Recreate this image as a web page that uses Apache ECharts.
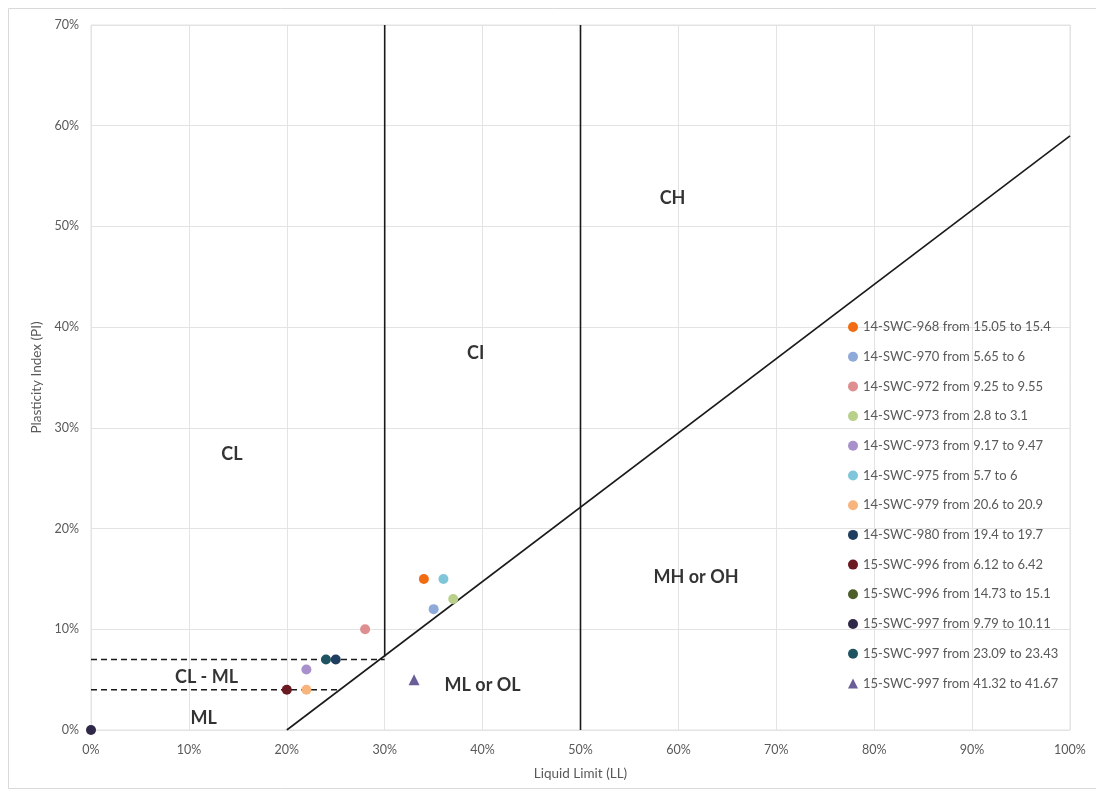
<!DOCTYPE html>
<html><head><meta charset="utf-8">
<script src="https://cdn.jsdelivr.net/npm/echarts@6/dist/echarts.min.js"></script>
<style>html,body{margin:0;padding:0;background:#fff}#c{width:1096px;height:798px}</style>
</head><body><div id="c"></div>
<script>
// Sample series (LL %, PI %)
const seriesNames = [
  '14-SWC-968 from 15.05 to 15.4',
  '14-SWC-970 from 5.65 to 6',
  '14-SWC-972 from 9.25 to 9.55',
  '14-SWC-973 from 2.8 to 3.1',
  '14-SWC-973 from 9.17 to 9.47',
  '14-SWC-975 from 5.7 to 6',
  '14-SWC-979 from 20.6 to 20.9',
  '14-SWC-980 from 19.4 to 19.7',
  '15-SWC-996 from 6.12 to 6.42',
  '15-SWC-996 from 14.73 to 15.1',
  '15-SWC-997 from 9.79 to 10.11',
  '15-SWC-997 from 23.09 to 23.43',
  '15-SWC-997 from 41.32 to 41.67'
];
const seriesPoints = [
  [[34, 15]],
  [[35, 12]],
  [[28, 10]],
  [[37, 13]],
  [[22, 6]],
  [[36, 15]],
  [[22, 4]],
  [[25, 7]],
  [[20, 4]],
  [],
  [[0, 0]],
  [[24, 7]],
  [[33, 5]]
];
const seriesColors = ['#f26d12','#8eaad8','#de8e8e','#b8d089','#a890cb','#80c6da','#f7b47c','#1f3d5f','#6a1b22','#4e5e2a','#2f2848','#1e5462','#6b5e98'];
const seriesSymbols = ['circle','circle','circle','circle','circle','circle','circle','circle','circle','circle','circle','circle','triangle'];

// Plasticity chart boundary lines
const aLine = [[20, 0], [100, 59]];
const ll30Line = [[30, 7.3], [30, 70]];
const ll50Line = [[50, 0], [50, 70]];
const pi7Line = [[0, 7], [30, 7]];
const pi4Line = [[0, 4], [25.5, 4]];

// Zone labels
const zoneLabels = [
  ['CH', 59.4, 52.8],
  ['CI', 39.3, 37.4],
  ['CL', 14.4, 27.4],
  ['CL - ML', 11.8, 5.2],
  ['ML', 11.5, 1.2],
  ['ML or OL', 40.0, 4.4],
  ['MH or OH', 61.8, 15.2]
];

const xTicks = [0, 100, 10];
const yTicks = [0, 70, 10];

const font = 'Lato, "Open Sans", sans-serif';
const series = [];
function lineSeries(data, type) {
  return { type: 'line', data: data, symbol: 'none', silent: true, z: 1,
    lineStyle: { color: '#1a1a1a', width: 1.6, type: type || 'solid' } };
}
series.push(lineSeries(aLine));
series.push(lineSeries(ll30Line));
series.push(lineSeries(ll50Line));
series.push(lineSeries(pi7Line, [6, 4]));
series.push(lineSeries(pi4Line, [6, 4]));
series.push({
  type: 'scatter', silent: true, symbolSize: 0,
  data: zoneLabels.map(z => ({ name: z[0], value: [z[1], z[2]] })),
  label: { show: true, position: 'inside', formatter: p => p.name,
    fontFamily: font, fontWeight: 'bold', fontSize: 18, color: '#000' }
});
seriesNames.forEach((n, i) => {
  series.push({ name: n, type: 'scatter', data: seriesPoints[i], symbol: seriesSymbols[i],
    symbolSize: seriesSymbols[i] === 'triangle' ? 11 : 10, z: 5,
    itemStyle: { color: seriesColors[i], opacity: 1 } });
});

const chart = echarts.init(document.getElementById('c'));
chart.setOption({
  animation: false,
  backgroundColor: '#fff',
  graphic: [{ type: 'rect', shape: { x: 8.5, y: 8.5, width: 1100, height: 780 },
    style: { fill: 'none', stroke: '#d9d9d9', lineWidth: 1 }, silent: true }],
  grid: { left: 91, right: 26, top: 25, bottom: 68, show: true, borderColor: '#e3e3e3', borderWidth: 1 },
  legend: {
    data: seriesNames.map((n, i) => ({ name: n, icon: seriesSymbols[i] })),
    orient: 'vertical', left: 843, top: 314, itemWidth: 10, itemHeight: 10, itemGap: 13.7,
    textStyle: { fontFamily: font, fontSize: 13, color: '#595959', lineHeight: 16 }
  },
  xAxis: {
    type: 'value', min: xTicks[0], max: xTicks[1], interval: xTicks[2],
    name: 'Liquid Limit (LL)', nameLocation: 'middle', nameGap: 37,
    nameTextStyle: { fontFamily: font, fontSize: 13.5, color: '#595959' },
    axisLine: { show: false }, axisTick: { show: false },
    axisLabel: { formatter: '{value}%', fontFamily: font, fontSize: 12.5, color: '#595959', margin: 13 },
    splitLine: { show: true, lineStyle: { color: '#e3e3e3', width: 1 } }
  },
  yAxis: {
    type: 'value', min: yTicks[0], max: yTicks[1], interval: yTicks[2],
    name: 'Plasticity Index (PI)', nameLocation: 'middle', nameGap: 44, nameRotate: 90,
    nameTextStyle: { fontFamily: font, fontSize: 13.5, color: '#595959' },
    axisLine: { show: false }, axisTick: { show: false },
    axisLabel: { formatter: '{value}%', fontFamily: font, fontSize: 12.5, color: '#595959', margin: 12 },
    splitLine: { show: true, lineStyle: { color: '#e3e3e3', width: 1 } }
  },
  series: series
});
</script></body></html>
